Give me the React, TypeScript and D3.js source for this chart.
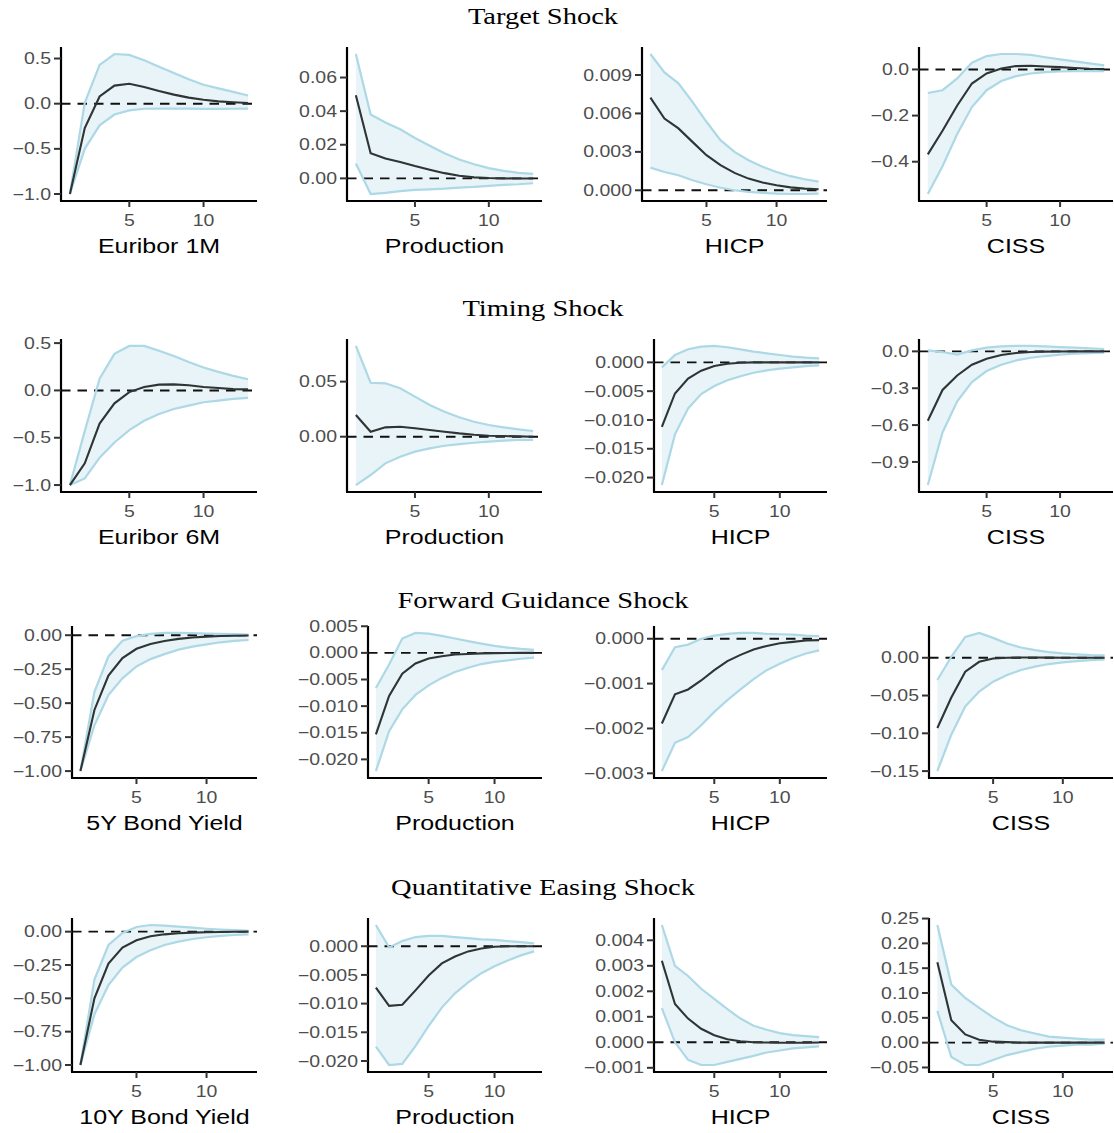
import * as d3 from "d3";

// horizons (months after the shock)
const horizons = [1, 2, 3, 4, 5, 6, 7, 8, 9, 10, 11, 12, 13];

const shockTitles = [
  "Target Shock",
  "Timing Shock",
  "Forward Guidance Shock",
  "Quantitative Easing Shock",
];

const xTicks = [5, 10];

// ---- Target shock ----
const tgtEuriborMid = [-1.0, -0.27, 0.08, 0.2, 0.22, 0.185, 0.14, 0.1, 0.067, 0.044, 0.026, 0.015, 0.007];
const tgtEuriborHi = [-1.0, 0.01, 0.43, 0.55, 0.54, 0.48, 0.41, 0.34, 0.27, 0.21, 0.17, 0.13, 0.09];
const tgtEuriborLo = [-1.0, -0.5, -0.24, -0.12, -0.074, -0.056, -0.055, -0.055, -0.055, -0.058, -0.058, -0.056, -0.055];
const tgtEuriborTicks = [-1.0, -0.5, 0.0, 0.5];

const tgtProdMid = [0.0495, 0.015, 0.0118, 0.0098, 0.0073, 0.0051, 0.0031, 0.0016, 0.0006, 0.0002, 0.0, -0.0001, -0.0001];
const tgtProdHi = [0.074, 0.038, 0.0333, 0.0292, 0.024, 0.0194, 0.0149, 0.0112, 0.0084, 0.0061, 0.0045, 0.0033, 0.0027];
const tgtProdLo = [0.0088, -0.0093, -0.0086, -0.0076, -0.0069, -0.0065, -0.0061, -0.0055, -0.0051, -0.0045, -0.0039, -0.0035, -0.0029];
const tgtProdTicks = [0.0, 0.02, 0.04, 0.06];

const tgtHicpMid = [0.00723, 0.0056, 0.00483, 0.00378, 0.00274, 0.00196, 0.00136, 0.00091, 0.0006, 0.00039, 0.00023, 0.00013, 0.00008];
const tgtHicpHi = [0.01064, 0.0092, 0.00835, 0.00691, 0.00535, 0.00391, 0.003, 0.00235, 0.00183, 0.00143, 0.0011, 0.00086, 0.00068];
const tgtHicpLo = [0.00177, 0.00143, 0.00117, 0.00078, 0.00047, 0.0002, 0.0, -0.00013, -0.0002, -0.00026, -0.00029, -0.00029, -0.00026];
const tgtHicpTicks = [0.0, 0.003, 0.006, 0.009];

const tgtCissMid = [-0.368, -0.266, -0.156, -0.061, -0.0175, 0.004, 0.0146, 0.016, 0.013, 0.01, 0.006, 0.003, 0.0015];
const tgtCissHi = [-0.102, -0.09, -0.039, 0.029, 0.058, 0.067, 0.067, 0.063, 0.053, 0.044, 0.035, 0.026, 0.0175];
const tgtCissLo = [-0.54, -0.42, -0.28, -0.163, -0.09, -0.05, -0.029, -0.0175, -0.0117, -0.0088, -0.0073, -0.0073, -0.0073];
const tgtCissTicks = [-0.4, -0.2, 0.0];

// ---- Timing shock ----
const tmgEuriborMid = [-1.0, -0.77, -0.35, -0.136, -0.018, 0.036, 0.061, 0.064, 0.054, 0.036, 0.025, 0.014, 0.011];
const tmgEuriborHi = [-1.0, -0.43, 0.125, 0.386, 0.47, 0.47, 0.42, 0.364, 0.3, 0.243, 0.196, 0.154, 0.118];
const tmgEuriborLo = [-1.0, -0.93, -0.71, -0.55, -0.42, -0.32, -0.25, -0.196, -0.16, -0.125, -0.107, -0.089, -0.079];
const tmgEuriborTicks = [-1.0, -0.5, 0.0, 0.5];

const tmgProdMid = [0.0197, 0.0045, 0.0085, 0.0091, 0.0076, 0.0061, 0.0045, 0.003, 0.0018, 0.0009, 0.0006, 0.0003, 0.0];
const tmgProdHi = [0.0824, 0.049, 0.0485, 0.044, 0.0364, 0.0288, 0.0227, 0.0176, 0.0136, 0.0106, 0.0085, 0.0067, 0.0052];
const tmgProdLo = [-0.0439, -0.0348, -0.0242, -0.0182, -0.0136, -0.0106, -0.0082, -0.0067, -0.0055, -0.0045, -0.0036, -0.003, -0.003];
const tmgProdTicks = [0.0, 0.05];

const tmgHicpMid = [-0.0112, -0.0054, -0.0028, -0.00145, -0.00064, -0.00023, -0.00006, 0, 0, 0, 0, 0, 0];
const tmgHicpHi = [-0.00087, 0.00128, 0.00227, 0.00273, 0.00285, 0.00262, 0.00227, 0.00186, 0.00157, 0.00128, 0.00099, 0.00081, 0.0007];
const tmgHicpLo = [-0.0213, -0.0125, -0.008, -0.0055, -0.0041, -0.0031, -0.0024, -0.0018, -0.0014, -0.0011, -0.00087, -0.00064, -0.00052];
const tmgHicpTicks = [-0.02, -0.015, -0.01, -0.005, 0.0];

const tmgCissMid = [-0.565, -0.314, -0.196, -0.109, -0.06, -0.03, -0.0136, -0.0055, -0.002, -0.001, 0, 0, 0];
const tmgCissHi = [0.008, -0.0055, -0.027, 0.008, 0.03, 0.041, 0.044, 0.044, 0.041, 0.035, 0.03, 0.025, 0.019];
const tmgCissLo = [-1.088, -0.66, -0.406, -0.25, -0.16, -0.109, -0.074, -0.052, -0.038, -0.027, -0.019, -0.0136, -0.011];
const tmgCissTicks = [-0.9, -0.6, -0.3, 0.0];

// ---- Forward guidance shock ----
const fgBondMid = [-1.0, -0.55, -0.297, -0.168, -0.1, -0.064, -0.042, -0.027, -0.017, -0.01, -0.006, -0.004, -0.0025];
const fgBondHi = [-1.0, -0.416, -0.156, -0.04, -0.007, 0.01, 0.017, 0.017, 0.015, 0.012, 0.01, 0.0074, 0.005];
const fgBondLo = [-1.0, -0.663, -0.44, -0.317, -0.23, -0.176, -0.139, -0.106, -0.084, -0.067, -0.052, -0.042, -0.035];
const fgBondTicks = [-1.0, -0.75, -0.5, -0.25, 0.0];

const fgProdMid = [-0.0153, -0.0081, -0.0039, -0.002, -0.00106, -0.00063, -0.0003, -0.0002, -0.0001, -0.00005, -0.00003, 0, 0];
const fgProdHi = [-0.0066, -0.0022, 0.0027, 0.00375, 0.0036, 0.0032, 0.0027, 0.0022, 0.00175, 0.0013, 0.001, 0.00075, 0.00056];
const fgProdLo = [-0.0222, -0.0147, -0.0106, -0.0079, -0.0061, -0.0047, -0.0036, -0.0028, -0.0021, -0.0017, -0.0014, -0.0011, -0.0009];
const fgProdTicks = [-0.02, -0.015, -0.01, -0.005, 0.0, 0.005];

const fgHicpMid = [-0.00189, -0.00124, -0.00113, -0.00093, -0.0007, -0.0005, -0.00036, -0.00024, -0.00016, -0.0001, -0.00007, -0.00004, -0.00003];
const fgHicpHi = [-0.0007, -0.00019, -0.00013, 0, 0.00007, 0.00011, 0.00013, 0.00013, 0.00011, 0.0001, 0.00009, 0.00007, 0.00006];
const fgHicpLo = [-0.00295, -0.00232, -0.00219, -0.00193, -0.00163, -0.00137, -0.00113, -0.0009, -0.0007, -0.00056, -0.00043, -0.00033, -0.00026];
const fgHicpTicks = [-0.003, -0.002, -0.001, 0.0];

const fgCissMid = [-0.093, -0.0526, -0.0184, -0.0053, -0.0009, 0, 0.0003, 0.0003, 0.0002, 0.0001, 0.0001, 0, 0];
const fgCissHi = [-0.0294, 0.0013, 0.0276, 0.0329, 0.0263, 0.0189, 0.0136, 0.0101, 0.0075, 0.0057, 0.0044, 0.0035, 0.0031];
const fgCissLo = [-0.15, -0.1018, -0.0645, -0.0447, -0.0316, -0.0228, -0.0162, -0.0118, -0.0083, -0.0061, -0.0044, -0.0031, -0.0022];
const fgCissTicks = [-0.15, -0.1, -0.05, 0.0];

// ---- Quantitative easing shock ----
const qeBondMid = [-1.0, -0.5, -0.24, -0.12, -0.065, -0.035, -0.02, -0.012, -0.007, -0.004, -0.002, -0.001, 0];
const qeBondHi = [-1.0, -0.36, -0.1, -0.01, 0.035, 0.05, 0.045, 0.038, 0.03, 0.022, 0.016, 0.011, 0.007];
const qeBondLo = [-1.0, -0.62, -0.4, -0.27, -0.19, -0.14, -0.1, -0.075, -0.055, -0.042, -0.032, -0.025, -0.02];
const qeBondTicks = [-1.0, -0.75, -0.5, -0.25, 0.0];

const qeProdMid = [-0.0072, -0.0104, -0.0102, -0.0077, -0.0051, -0.003, -0.0018, -0.0009, -0.0004, -0.0001, 0, 0, 0];
const qeProdHi = [0.0037, -0.0002, 0.0009, 0.0016, 0.0018, 0.0018, 0.0016, 0.0014, 0.0012, 0.0011, 0.0009, 0.0007, 0.0005];
const qeProdLo = [-0.0175, -0.0207, -0.0205, -0.0174, -0.0139, -0.0107, -0.0082, -0.0063, -0.0047, -0.0035, -0.0025, -0.0016, -0.0009];
const qeProdTicks = [-0.02, -0.015, -0.01, -0.005, 0.0];

const qeHicpMid = [0.0032, 0.0015, 0.00093, 0.00053, 0.00028, 0.00012, 0.00004, 0, -0.00001, -0.00002, -0.00002, -0.00002, -0.00001];
const qeHicpHi = [0.0046, 0.003, 0.0026, 0.0021, 0.0017, 0.0013, 0.00093, 0.00065, 0.00049, 0.00036, 0.00028, 0.00024, 0.0002];
const qeHicpLo = [0.00134, 0, -0.00069, -0.00089, -0.00089, -0.00077, -0.00065, -0.00053, -0.0004, -0.00032, -0.00024, -0.0002, -0.00016];
const qeHicpTicks = [-0.001, 0.0, 0.001, 0.002, 0.003, 0.004];

const qeCissMid = [0.162, 0.045, 0.0165, 0.006, 0.002, 0.001, 0, 0, 0, 0, 0, 0, 0];
const qeCissHi = [0.237, 0.117, 0.09, 0.07, 0.051, 0.035, 0.025, 0.0185, 0.0123, 0.01, 0.008, 0.006, 0.006];
const qeCissLo = [0.064, -0.029, -0.045, -0.045, -0.035, -0.025, -0.0185, -0.0123, -0.008, -0.006, -0.004, -0.004, -0.002];
const qeCissTicks = [-0.05, 0.0, 0.05, 0.1, 0.15, 0.2, 0.25];

const panels = [
  { row: 0, col: 0, label: "Euribor 1M", mid: tgtEuriborMid, hi: tgtEuriborHi, lo: tgtEuriborLo, ticks: tgtEuriborTicks, digits: 1 },
  { row: 0, col: 1, label: "Production", mid: tgtProdMid, hi: tgtProdHi, lo: tgtProdLo, ticks: tgtProdTicks, digits: 2 },
  { row: 0, col: 2, label: "HICP", mid: tgtHicpMid, hi: tgtHicpHi, lo: tgtHicpLo, ticks: tgtHicpTicks, digits: 3 },
  { row: 0, col: 3, label: "CISS", mid: tgtCissMid, hi: tgtCissHi, lo: tgtCissLo, ticks: tgtCissTicks, digits: 1 },
  { row: 1, col: 0, label: "Euribor 6M", mid: tmgEuriborMid, hi: tmgEuriborHi, lo: tmgEuriborLo, ticks: tmgEuriborTicks, digits: 1 },
  { row: 1, col: 1, label: "Production", mid: tmgProdMid, hi: tmgProdHi, lo: tmgProdLo, ticks: tmgProdTicks, digits: 2 },
  { row: 1, col: 2, label: "HICP", mid: tmgHicpMid, hi: tmgHicpHi, lo: tmgHicpLo, ticks: tmgHicpTicks, digits: 3 },
  { row: 1, col: 3, label: "CISS", mid: tmgCissMid, hi: tmgCissHi, lo: tmgCissLo, ticks: tmgCissTicks, digits: 1 },
  { row: 2, col: 0, label: "5Y Bond Yield", mid: fgBondMid, hi: fgBondHi, lo: fgBondLo, ticks: fgBondTicks, digits: 2 },
  { row: 2, col: 1, label: "Production", mid: fgProdMid, hi: fgProdHi, lo: fgProdLo, ticks: fgProdTicks, digits: 3 },
  { row: 2, col: 2, label: "HICP", mid: fgHicpMid, hi: fgHicpHi, lo: fgHicpLo, ticks: fgHicpTicks, digits: 3 },
  { row: 2, col: 3, label: "CISS", mid: fgCissMid, hi: fgCissHi, lo: fgCissLo, ticks: fgCissTicks, digits: 2 },
  { row: 3, col: 0, label: "10Y Bond Yield", mid: qeBondMid, hi: qeBondHi, lo: qeBondLo, ticks: qeBondTicks, digits: 2 },
  { row: 3, col: 1, label: "Production", mid: qeProdMid, hi: qeProdHi, lo: qeProdLo, ticks: qeProdTicks, digits: 3 },
  { row: 3, col: 2, label: "HICP", mid: qeHicpMid, hi: qeHicpHi, lo: qeHicpLo, ticks: qeHicpTicks, digits: 3 },
  { row: 3, col: 3, label: "CISS", mid: qeCissMid, hi: qeCissHi, lo: qeCissLo, ticks: qeCissTicks, digits: 2 },
];

// layout
const W = 1114;
const H = 1133;
const rowTop = [47, 339, 626, 918];
const rowBottom = [201, 492, 778, 1072];
const titleY = [24, 316, 608, 895];
const colRight = [257, 542, 827, 1113];
const plotLeft = [
  [61, 347, 642, 919],
  [61, 347, 654, 919],
  [72, 368, 654, 929],
  [72, 368, 654, 929],
];
const SX = 1.25; // the figure is stretched horizontally
const SANS = "'Liberation Sans', Arial, sans-serif";
const SERIF = "'Liberation Serif', 'Times New Roman', serif";

function Txt({ x, y, size, anchor = "start", fill = "#000", family = SANS, dy, children }: any) {
  return (
    <text
      transform={`translate(${x},${y}) scale(${SX},1)`}
      textAnchor={anchor}
      fontSize={size}
      fill={fill}
      fontFamily={family}
      dy={dy}
    >
      {children}
    </text>
  );
}

function IrfPanel({ p }: any) {
  const left = plotLeft[p.row][p.col];
  const right = colRight[p.col];
  const top = rowTop[p.row];
  const bottom = rowBottom[p.row];

  const x = d3.scaleLinear().domain([0.4, 13.6]).range([left, right]);
  const [mn, mx] = d3.extent([...p.lo, ...p.hi, ...p.mid, 0]) as [number, number];
  const pad = (mx - mn) * 0.05;
  const y = d3.scaleLinear().domain([mn - pad, mx + pad]).range([bottom, top]);

  const idx = horizons.map((_, i) => i);
  const area = d3
    .area<number>()
    .x((i) => x(horizons[i]))
    .y0((i) => y(p.lo[i]))
    .y1((i) => y(p.hi[i]));
  const line = (vals: number[]) =>
    d3
      .line<number>()
      .x((i) => x(horizons[i]))
      .y((i) => y(vals[i]))(idx) as string;
  const fmt = d3.format(`.${p.digits}f`);

  return (
    <g>
      <path d={area(idx) as string} fill="#add8e6" fillOpacity={0.28} stroke="none" />
      <line x1={left} x2={right} y1={y(0)} y2={y(0)} stroke="#111" strokeWidth={1.9} strokeDasharray="9.5,7" />
      <path d={line(p.hi)} fill="none" stroke="#add8e6" strokeWidth={2.2} />
      <path d={line(p.lo)} fill="none" stroke="#add8e6" strokeWidth={2.2} />
      <path d={line(p.mid)} fill="none" stroke="#2f3434" strokeWidth={2.1} />

      {/* axes */}
      <line x1={left} x2={left} y1={top} y2={bottom} stroke="#000" strokeWidth={2.2} />
      <line x1={left - 1} x2={right} y1={bottom} y2={bottom} stroke="#000" strokeWidth={2.2} />
      {p.ticks.map((t: number) => (
        <g key={`y${t}`}>
          <line x1={left - 7} x2={left} y1={y(t)} y2={y(t)} stroke="#333" strokeWidth={2} />
          <Txt x={left - 10} y={y(t)} size={15.6} anchor="end" fill="#4d4d4d" dy="0.36em">
            {fmt(t)}
          </Txt>
        </g>
      ))}
      {xTicks.map((t) => (
        <g key={`x${t}`}>
          <line x1={x(t)} x2={x(t)} y1={bottom} y2={bottom + 6} stroke="#333" strokeWidth={2} />
          <Txt x={x(t)} y={bottom + 25} size={15.6} anchor="middle" fill="#4d4d4d">
            {t}
          </Txt>
        </g>
      ))}
      <Txt x={(left + right) / 2} y={bottom + 52} size={20} anchor="middle" fill="#000">
        {p.label}
      </Txt>
    </g>
  );
}

export default function App() {
  return (
    <svg
      width={W}
      height={H}
      viewBox={`0 0 ${W} ${H}`}
      style={{ position: "absolute", left: 0, top: 0, background: "#fff" }}
    >
      <rect x={0} y={0} width={W} height={H} fill="#fff" />
      {shockTitles.map((t, i) => (
        <Txt key={t} x={543} y={titleY[i]} size={22.8} anchor="middle" family={SERIF}>
          {t}
        </Txt>
      ))}
      {panels.map((p, i) => (
        <IrfPanel key={i} p={p} />
      ))}
    </svg>
  );
}
